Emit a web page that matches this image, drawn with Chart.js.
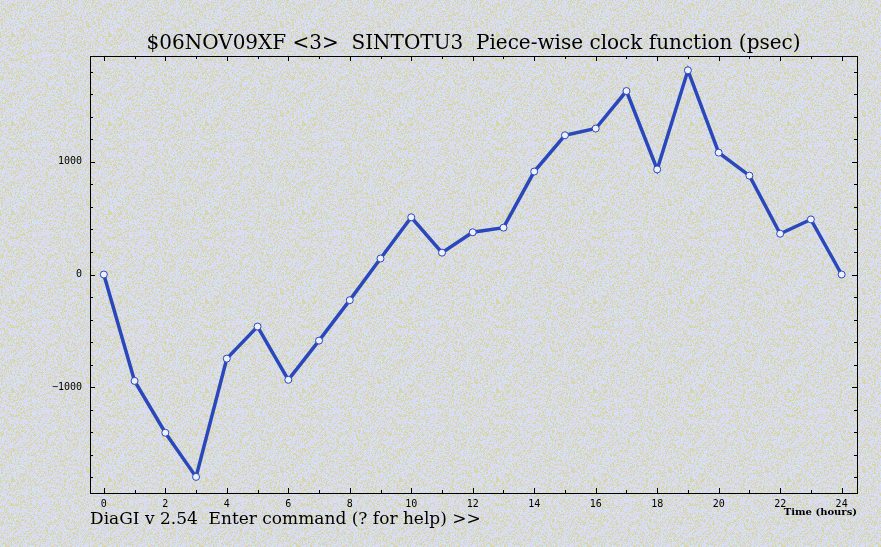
<!DOCTYPE html>
<html>
<head>
<meta charset="utf-8">
<title>SINTOTU3 clock function</title>
<script src="https://cdn.jsdelivr.net/npm/chart.js@4/dist/chart.umd.min.js"></script>
<style>
  html, body { margin: 0; padding: 0; background: #d9d9e6; }
  canvas { display: block; }
</style>
</head>
<body>
<canvas id="clockChart" width="881" height="547"></canvas>
<script>
// hours since start of the session
const hours = [0, 1, 2, 3, 4, 5, 6, 7, 8, 9, 10, 11, 12, 13, 14, 15, 16, 17, 18, 19, 20, 21, 22, 23, 24];
// piece-wise clock function, psec
const clockPsec = [0, -945, -1405, -1797, -747, -462, -935, -587, -228, 142, 508, 194, 375, 416, 914, 1236, 1296, 1629, 933, 1813, 1082, 878, 362, 489, 0];

const xTicks = [0, 2, 4, 6, 8, 10, 12, 14, 16, 18, 20, 22, 24];
const yTicks = [-1000, 0, 1000];
const xMinorStep = 1;
const yMinorStep = 200;

const titleText = '$06NOV09XF <3>  SINTOTU3  Piece-wise clock function (psec)';
const footerText = 'DiaGI v 2.54  Enter command (? for help) >>';
const xAxisTitle = 'Time (hours)';

// dithered lavender / yellow paper background
function makeTexture() {
  const c = document.createElement('canvas');
  c.width = 97; c.height = 89;
  const g = c.getContext('2d');
  const img = g.createImageData(c.width, c.height);
  for (let y = 0; y < c.height; y++) {
    for (let x = 0; x < c.width; x++) {
      let h = (x * 374761393 + y * 668265263) | 0;
      h = (h ^ (h >>> 13)) * 1274126177;
      h = ((h ^ (h >>> 16)) >>> 0) % 100;
      let col;
      if (h < 58) col = [218, 218, 242];
      else if (h < 90) col = [214, 214, 168];
      else col = [206, 236, 238];
      const i = (y * c.width + x) * 4;
      img.data[i] = col[0]; img.data[i + 1] = col[1]; img.data[i + 2] = col[2]; img.data[i + 3] = 255;
    }
  }
  g.putImageData(img, 0, 0);
  return c;
}

const decorPlugin = {
  id: 'decor',
  beforeDraw(chart) {
    const ctx = chart.ctx;
    ctx.save();
    ctx.fillStyle = ctx.createPattern(makeTexture(), 'repeat');
    ctx.fillRect(0, 0, chart.width, chart.height);
    ctx.restore();
  },
  afterDatasetsDraw(chart) {
    const ctx = chart.ctx;
    const a = chart.chartArea;
    const xs = chart.scales.x, ys = chart.scales.y;
    ctx.save();
    ctx.strokeStyle = '#000';
    ctx.lineWidth = 1;
    // frame
    ctx.strokeRect(Math.round(a.left) + 0.5, Math.round(a.top) + 0.5,
      Math.round(a.right - a.left), Math.round(a.bottom - a.top));
    ctx.beginPath();
    // inward ticks on all four sides
    for (let v = Math.ceil(xs.min); v <= xs.max; v += xMinorStep) {
      const px = Math.round(xs.getPixelForValue(v)) + 0.5;
      const len = xTicks.includes(v) ? 5 : 3;
      ctx.moveTo(px, a.bottom); ctx.lineTo(px, a.bottom - len);
      ctx.moveTo(px, a.top); ctx.lineTo(px, a.top + len);
    }
    for (let v = Math.ceil(ys.min / yMinorStep) * yMinorStep; v <= ys.max; v += yMinorStep) {
      const py = Math.round(ys.getPixelForValue(v)) + 0.5;
      const len = yTicks.includes(v) ? 5 : 3;
      ctx.moveTo(a.left, py); ctx.lineTo(a.left + len, py);
      ctx.moveTo(a.right, py); ctx.lineTo(a.right - len, py);
    }
    ctx.stroke();

    ctx.fillStyle = '#000';
    ctx.textBaseline = 'middle';
    ctx.textAlign = 'center';
    ctx.font = '20px "DejaVu Serif"';
    ctx.fillText(titleText, (a.left + a.right) / 2, 44);
    ctx.textAlign = 'left';
    ctx.font = '17px "DejaVu Serif"';
    ctx.fillText(footerText, a.left, 520);
    ctx.textAlign = 'right';
    ctx.font = 'bold 10px "DejaVu Serif"';
    ctx.fillText(xAxisTitle, a.right, 512);
    ctx.restore();
  }
};

new Chart(document.getElementById('clockChart'), {
  type: 'line',
  data: {
    datasets: [{
      label: 'Clock function',
      data: hours.map((h, i) => ({ x: h, y: clockPsec[i] })),
      borderColor: '#2a48bb',
      borderWidth: 3.5,
      pointRadius: 3.5,
      pointBackgroundColor: '#eef0ff',
      pointBorderColor: '#2a48bb',
      pointBorderWidth: 1,
      tension: 0
    }]
  },
  options: {
    responsive: false,
    animation: false,
    layout: { padding: { left: 0, top: 56, right: 24, bottom: 0 } },
    scales: {
      x: {
        type: 'linear',
        min: -0.45,
        max: 24.5,
        afterBuildTicks: s => { s.ticks = xTicks.map(v => ({ value: v })); },
        afterFit: s => { s.height = 54; },
        grid: { display: false, drawTicks: false },
        border: { display: false },
        ticks: { color: '#000', padding: 5, maxRotation: 0, font: { family: 'DejaVu Sans Mono', size: 10 } }
      },
      y: {
        min: -1940,
        max: 1940,
        afterBuildTicks: s => { s.ticks = yTicks.map(v => ({ value: v })); },
        afterFit: s => { s.width = 90; },
        grid: { display: false, drawTicks: false },
        border: { display: false },
        ticks: {
          color: '#000',
          padding: 8,
          font: { family: 'DejaVu Sans Mono', size: 10 },
          callback: v => (v < 0 ? '\u2212' + Math.abs(v) : String(v))
        }
      }
    },
    plugins: {
      legend: { display: false },
      tooltip: { enabled: false }
    }
  },
  plugins: [decorPlugin]
});
</script>
</body>
</html>
